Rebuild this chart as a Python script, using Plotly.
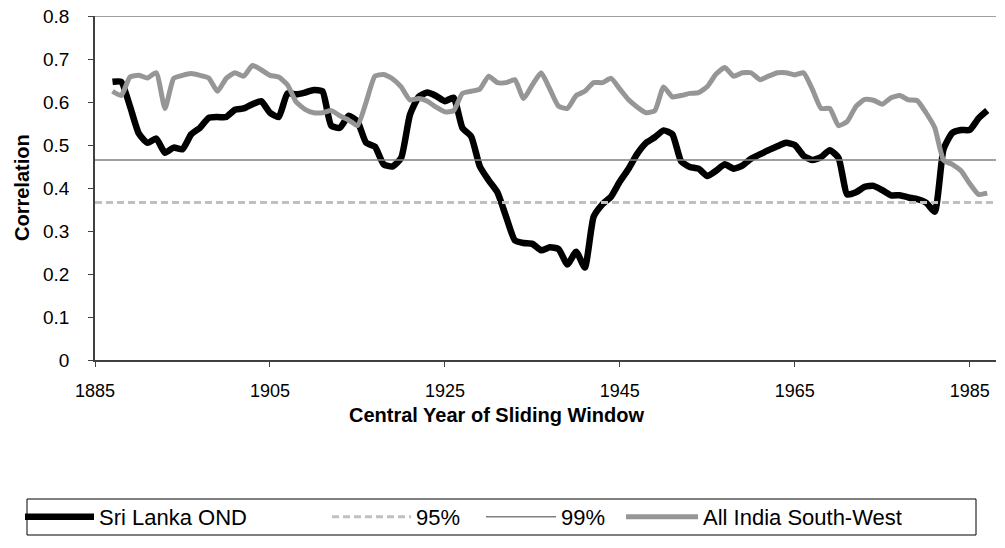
import plotly.graph_objects as go

years = list(range(1887, 1988))

sri_lanka_ond = [
    0.647, 0.647, 0.590, 0.527, 0.505, 0.515, 0.482, 0.494, 0.490, 0.525,  # 1887-1896
    0.540, 0.563, 0.565, 0.565, 0.582, 0.585, 0.595, 0.602, 0.575, 0.565,  # 1897-1906
    0.620, 0.618, 0.622, 0.628, 0.625, 0.545, 0.540, 0.568, 0.555, 0.505,  # 1907-1916
    0.496, 0.455, 0.450, 0.470, 0.570, 0.612, 0.622, 0.614, 0.602, 0.610,  # 1917-1926
    0.540, 0.520, 0.450, 0.418, 0.390, 0.333, 0.278, 0.272, 0.270, 0.255,  # 1927-1936
    0.262, 0.258, 0.222, 0.252, 0.215, 0.333, 0.362, 0.380, 0.415, 0.445,  # 1937-1946
    0.480, 0.505, 0.518, 0.534, 0.525, 0.462, 0.449, 0.445, 0.428, 0.440,  # 1947-1956
    0.455, 0.445, 0.452, 0.468, 0.478, 0.488, 0.497, 0.505, 0.500, 0.475,  # 1957-1966
    0.465, 0.472, 0.488, 0.470, 0.385, 0.390, 0.403, 0.405, 0.395, 0.383,  # 1967-1976
    0.383, 0.378, 0.374, 0.366, 0.345, 0.490, 0.528, 0.535, 0.535, 0.562,  # 1977-1986
    0.580,                                                                  # 1987
]

all_india_sw = [
    0.625, 0.615, 0.658, 0.662, 0.656, 0.668, 0.585, 0.655, 0.662, 0.666,  # 1887-1896
    0.662, 0.656, 0.625, 0.655, 0.668, 0.660, 0.685, 0.675, 0.662, 0.658,  # 1897-1906
    0.640, 0.600, 0.583, 0.575, 0.575, 0.580, 0.568, 0.558, 0.545, 0.600,  # 1907-1916
    0.660, 0.664, 0.654, 0.635, 0.605, 0.608, 0.602, 0.588, 0.577, 0.580,  # 1917-1926
    0.620, 0.625, 0.630, 0.660, 0.645, 0.645, 0.652, 0.608, 0.640, 0.668,  # 1927-1936
    0.630, 0.590, 0.585, 0.615, 0.625, 0.645, 0.645, 0.655, 0.630, 0.605,  # 1937-1946
    0.588, 0.575, 0.580, 0.635, 0.612, 0.615, 0.620, 0.622, 0.636, 0.665,  # 1947-1956
    0.680, 0.660, 0.668, 0.668, 0.652, 0.660, 0.668, 0.668, 0.663, 0.668,  # 1957-1966
    0.630, 0.585, 0.585, 0.545, 0.555, 0.590, 0.606, 0.604, 0.595, 0.610,  # 1967-1976
    0.615, 0.605, 0.603, 0.575, 0.540, 0.465, 0.455, 0.440, 0.410, 0.385,  # 1977-1986
    0.388,                                                                  # 1987
]

sig95 = 0.366
sig99 = 0.465

x_range = [1885, 1988]
tick_years = [1885, 1905, 1925, 1945, 1965, 1985]
y_ticks = [0, 0.1, 0.2, 0.3, 0.4, 0.5, 0.6, 0.7, 0.8]
y_labels = ["0", "0.1", "0.2", "0.3", "0.4", "0.5", "0.6", "0.7", "0.8"]

FONT = "Liberation Sans, Arial, sans-serif"

# Figure fills the whole 1005x548 window (page body margin removed below).
W, H = 1005, 548
# plot area in window pixels: x 95..996, y 16..360
PL, PR, PT, PB = 95, 996, 16, 360
def px(x):
    return (x - PL) / (PR - PL)
def py(y):
    return (PB - y) / (PB - PT)

fig = go.Figure()
fig.add_trace(go.Scatter(
    x=years, y=sri_lanka_ond, mode="lines", name="Sri Lanka OND",
    legend="legend",
    line=dict(color="black", width=6.5, shape="spline", smoothing=0.5)))
fig.add_trace(go.Scatter(
    x=x_range, y=[sig95, sig95], mode="lines", name="95%",
    legend="legend2", line=dict(color="#c0c0c0", width=3, dash="7px,4px")))
fig.add_trace(go.Scatter(
    x=x_range, y=[sig99, sig99], mode="lines", name="99%",
    legend="legend3", line=dict(color="#808080", width=1.5)))
fig.add_trace(go.Scatter(
    x=years, y=all_india_sw, mode="lines", name="All India South-West",
    legend="legend4",
    line=dict(color="#969696", width=5, shape="spline", smoothing=0.5)))

# top border line of the plot area
fig.add_shape(type="line", xref="paper", yref="y", x0=0, x1=1, y0=0.8, y1=0.8,
              line=dict(color="#808080", width=1.5))
# legend frame
fig.add_shape(type="rect", xref="paper", yref="paper",
              x0=px(27), x1=px(976), y0=py(499), y1=py(535),
              line=dict(color="black", width=1), fillcolor="rgba(0,0,0,0)")

def leg(xpix, iw):
    return dict(x=px(xpix), xanchor="left", y=py(517), yanchor="middle",
                bgcolor="rgba(0,0,0,0)", borderwidth=0, itemwidth=iw,
                font=dict(size=22, family=FONT, color="black"))

fig.update_layout(
    width=W, height=H,
    margin=dict(l=PL, r=W - PR, t=PT, b=H - PB, autoexpand=False),
    paper_bgcolor="white", plot_bgcolor="white",
    font=dict(family=FONT, size=18, color="black"),
    showlegend=True,
    legend=leg(20, 69),
    legend2=leg(327, 79),
    legend3=leg(481, 70),
    legend4=leg(621, 72),
    xaxis=dict(
        range=x_range, tickmode="array", tickvals=tick_years,
        ticktext=[str(t) for t in tick_years],
        showgrid=False, zeroline=False, showline=True, linecolor="#404040",
        linewidth=1.5, ticks="outside", ticklen=5, tickcolor="#404040",
        tickfont=dict(size=18), ticklabelstandoff=9, ticklabeloverflow="allow",
    ),
    yaxis=dict(
        range=[0, 0.8], tickmode="array", tickvals=y_ticks, ticktext=y_labels,
        showgrid=False, zeroline=False, showline=True, linecolor="#404040",
        linewidth=1.5, ticks="outside", ticklen=5, tickcolor="#404040",
        tickfont=dict(size=19), ticklabelstandoff=15, ticklabeloverflow="allow",
    ),
    annotations=[
        dict(text="<b>Correlation</b>", xref="paper", yref="paper",
             x=px(22), y=py(188), textangle=-90, showarrow=False,
             font=dict(size=20), xanchor="center", yanchor="middle"),
        dict(text="<b>Central Year of Sliding Window</b>", xref="paper",
             yref="paper", x=px(496), y=py(415), showarrow=False,
             font=dict(size=20), xanchor="center", yanchor="middle"),
    ],
)

fig.write_html(
    "out.html",
    config={"displayModeBar": False},
    post_script="document.body.style.margin='0';"
                "document.body.style.overflow='hidden';",
)
